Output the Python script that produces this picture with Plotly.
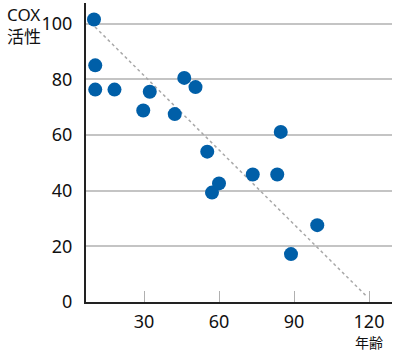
import plotly.graph_objects as go

age = [10.0, 10.5, 10.5, 18.2, 29.7, 32.3, 42.3, 46.1, 50.6, 55.3, 57.2, 60.0, 73.5, 83.3, 84.7, 88.8, 99.3]
cox = [101.5, 85.0, 76.3, 76.3, 68.8, 75.5, 67.5, 80.5, 77.2, 54.0, 39.3, 42.6, 45.8, 45.8, 61.1, 17.2, 27.6]
trend_x = [10.4, 119.2]
trend_y = [98.8, 1.9]
x_ticks = [30, 60, 90, 120]
y_ticks = [0, 20, 40, 60, 80, 100]

FONT = "Noto Sans, Noto Sans CJK JP, sans-serif"

fig = go.Figure()
fig.add_trace(go.Scatter(x=trend_x, y=trend_y, mode="lines",
                         line=dict(color="#a8a8a8", width=1.5, dash="dot"),
                         hoverinfo="skip", showlegend=False))
fig.add_trace(go.Scatter(x=age, y=cox, mode="markers",
                         marker=dict(color="#005fa8", size=14, line=dict(width=0)),
                         showlegend=False))

fig.update_layout(
    width=399, height=352,
    margin=dict(l=86, r=7, t=3, b=50),
    paper_bgcolor="white", plot_bgcolor="white",
    font=dict(family=FONT, size=18, color="#111"),
    xaxis=dict(range=[6.8, 129.2], tickvals=x_ticks, ticktext=[str(v) for v in x_ticks],
               showgrid=False, zeroline=False, showline=True, linecolor="#222", linewidth=2,
               ticks="inside", ticklen=11, tickcolor="#b0b0b0", tickwidth=1,
               ticklabelstandoff=2, fixedrange=True),
    yaxis=dict(range=[0, 107.4], tickvals=y_ticks, showgrid=True, gridcolor="#c4c4c4", gridwidth=1.5,
               zeroline=False, showline=True, linecolor="#222", linewidth=2,
               ticks="", ticklabelstandoff=8, fixedrange=True),
)
fig.add_annotation(text="COX<br>活性", xref="paper", yref="paper", x=-81/306, y=1 + 2/299,
                   xanchor="left", yanchor="top", align="left", showarrow=False,
                   font=dict(size=17, family=FONT, color="#111"))
fig.add_annotation(text="年齢", xref="paper", yref="paper", x=(369 - 86) / 306, y=-40/299,
                   xanchor="center", yanchor="middle", showarrow=False,
                   font=dict(size=14, family=FONT, color="#111"))

fig.write_html("out.html")
